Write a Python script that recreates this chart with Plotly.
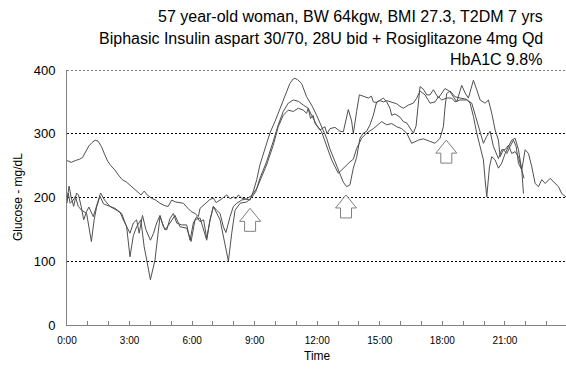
import plotly.graph_objects as go

# ---- data (hours of day, glucose mg/dL) ----
t_a = [0.00,0.20,0.40,0.60,0.75,0.90,1.05,1.20,1.35,1.50,1.65,1.80,1.95,2.10,2.30,2.47,2.65,2.86,3.10,3.34,
       3.55,3.70,3.85,4.05,4.25,4.46,4.70,4.85,5.02,5.20,5.40,5.58,5.80,5.95,6.14,6.30,6.38,6.55,6.70,6.86,
       7.02,7.15,7.34,7.50,7.66,7.82,7.98,8.10,8.22,8.38,8.55,8.78,8.94,9.10,9.25,9.50,9.73,9.97,10.21,10.45,
       10.69,10.85,10.93,11.05,11.25,11.49,11.73,11.97,12.21,12.45,12.61,12.85,13.09,13.25,13.41,13.57,13.73,13.89,14.05,14.21,
       14.37,14.53,14.69,14.85,15.01,15.17,15.33,15.57,15.81,15.97,16.13,16.37,16.61,16.77,16.93,17.17,17.41,17.65,17.81,17.97,
       18.21,18.45,18.61,18.85,19.17,19.41,19.65,19.81,19.97,20.13,20.29,20.45,20.69,20.85,21.01,21.17,21.33,21.49,21.65,21.81,21.92]
g_a = [258,255,258,260,263,273,281,286,290,288,280,268,257,250,243,235,228,224,217,209,
       204,210,204,199,196,191,187,186,196,193,192,191,183,178,175,170,183,188,191,197,
       199,192,196,200,204,198,201,198,204,199,198,196,210,228,251,277,301,319,340,361,
       379,386,387,385,379,358,345,329,311,293,276,256,235,224,217,220,246,263,293,301,
       304,314,329,350,352,350,352,350,347,343,340,345,348,356,367,361,348,350,358,353,
       356,356,350,353,353,348,322,301,285,296,304,280,261,275,275,282,269,272,264,243,230]

t_b = [0.00,0.10,0.20,0.32,0.46,0.55,0.68,0.80,0.94,1.05,1.26,1.42,1.61,1.80,2.06,2.30,2.54,2.70,2.86,3.02,
       3.18,3.34,3.46,3.62,3.78,4.00,4.15,4.30,4.46,4.62,4.78,4.94,5.10,5.26,5.50,5.74,5.90,6.06,6.22,6.38,
       6.55,6.70,6.86,7.02,7.18,7.34,7.50,7.62,7.82,7.98,8.14,8.38,8.62,8.85,9.10,9.25,9.57,9.89,10.13,10.37,
       10.61,10.85,11.09,11.33,11.49,11.57,11.68,11.80,11.90,12.13,12.37,12.47,12.61,12.85,13.09,13.25,13.49,13.65,13.73,13.89,
       14.02,14.20,14.45,14.60,14.69,14.85,15.01,15.17,15.33,15.49,15.57,15.73,15.97,16.13,16.29,16.45,16.61,16.74,16.85,16.93,
       17.09,17.25,17.41,17.57,17.81,17.97,18.13,18.37,18.53,18.69,18.93,19.09,19.25,19.49,19.65,19.81,20.05,20.21,20.37,20.53,
       20.69,20.77,20.93,21.09,21.25,21.41,21.54,21.65,21.81,21.97,22.13,22.29,22.45,22.61,22.77,22.93,23.17,23.33,23.57,23.73,23.93]
g_b = [196,218,200,186,207,204,186,165,178,185,170,186,207,196,186,183,177,165,154,144,
       160,165,144,172,150,133,144,160,172,154,149,167,175,160,157,157,133,160,170,162,
       165,136,165,186,180,175,154,145,170,186,191,196,198,203,214,225,251,282,311,329,
       337,335,340,337,332,340,324,329,316,306,311,300,308,310,304,303,338,320,300,335,
       361,359,356,359,350,349,352,356,350,340,329,331,326,319,317,308,301,312,356,374,
       370,361,361,369,356,364,371,366,358,350,376,364,356,384,369,353,348,353,332,306,
       290,264,275,269,280,290,280,254,243,275,269,248,222,217,228,222,230,225,217,206,201]

t_c = [0.00,0.06,0.15,0.30,0.40,0.54,0.70,0.94,1.17,1.30,1.42,1.58,1.75,2.06,2.38,2.62,2.86,3.02,3.18,3.34,
       3.54,3.70,4.00,4.22,4.46,4.70,4.94,5.18,5.42,5.74,5.95,6.14,6.38,6.70,6.86,7.02,7.34,7.58,7.74,7.90,
       8.06,8.30,8.62,8.85,9.05,9.25,9.57,9.89,10.13,10.37,10.61,10.85,11.09,11.33,11.57,11.73,11.97,12.21,12.45,12.69,
       13.01,13.25,13.57,13.73,13.89,14.13,14.37,14.69,14.93,15.09,15.33,15.57,15.81,16.05,16.29,16.53,16.85,17.09,17.41,17.65,
       17.89,18.05,18.13,18.21,18.37,18.61,18.85,19.17,19.33,19.49,19.65,19.81,19.97,20.05,20.13,20.26,20.37,20.53,20.69,20.85,
       21.01,21.17,21.33,21.49,21.65,21.81,21.89]
g_c = [191,207,191,196,202,186,180,175,131,165,185,202,190,186,180,175,154,107,140,154,
       165,123,71,102,170,149,160,172,154,152,131,165,168,133,165,186,165,123,100,144,
       180,191,193,200,209,230,256,288,314,335,348,353,351,345,340,329,314,303,282,259,
       238,246,256,260,277,293,301,308,314,319,314,316,311,308,301,285,290,292,288,285,
       293,311,342,363,367,358,356,354,348,327,301,280,259,228,201,248,264,259,246,254,
       269,280,290,293,275,243,206]

arrow_times = [8.78, 13.38, 18.19]
arrow_tips = [183, 204, 290]

y_ticks = [0, 100, 200, 300, 400]
x_tick_hours = list(range(0, 24))
x_tick_labels = [f"{h}:00" if h % 3 == 0 else "" for h in x_tick_hours]

title_lines = ["57 year-old woman, BW 64kgw, BMI 27.3, T2DM 7 yrs",
               "Biphasic Insulin aspart 30/70, 28U bid + Rosiglitazone 4mg Qd",
               "HbA1C 9.8%"]

FONT = "Liberation Sans, Arial, sans-serif"
LINE_COLOR = "#505050"
GRID_DASH = "2px,2px"

fig = go.Figure()
for t, g in [(t_a, g_a), (t_b, g_b), (t_c, g_c)]:
    fig.add_trace(go.Scatter(x=t, y=g, mode="lines",
                             line=dict(color=LINE_COLOR, width=1),
                             hoverinfo="skip", showlegend=False))

# top dotted gridline at the upper axis limit
fig.add_shape(type="line", xref="paper", yref="y", x0=0, x1=1,
              y0=y_ticks[-1], y1=y_ticks[-1],
              line=dict(color="black", width=1, dash=GRID_DASH), layer="below")

# hollow up arrows (pixel-sized, anchored at data points)
arrow_path = "M 0,0 L 10.5,-13 L 5.5,-13 L 5.5,-23 L -5.5,-23 L -5.5,-13 L -10.5,-13 Z"
for at, av in zip(arrow_times, arrow_tips):
    fig.add_shape(type="path", xref="x", yref="y",
                  xsizemode="pixel", ysizemode="pixel",
                  xanchor=at, yanchor=av, path=arrow_path,
                  line=dict(color="#808080", width=1), fillcolor="white", layer="above")

title_y = [1.208, 1.122, 1.04]
for txt, yy in zip(title_lines, title_y):
    fig.add_annotation(text=txt, xref="paper", yref="paper", x=0.958, y=yy,
                       xanchor="right", yanchor="middle", showarrow=False,
                       font=dict(family=FONT, size=16, color="black"))

fig.add_annotation(text="Glucose - mg/dL", xref="paper", yref="paper", x=-0.098, y=0.502,
                   textangle=-90, xanchor="center", yanchor="middle", showarrow=False,
                   font=dict(family=FONT, size=12, color="black"))
fig.add_annotation(text="Time", xref="paper", yref="paper", x=0.503, y=-0.12,
                   xanchor="center", yanchor="middle", showarrow=False,
                   font=dict(family=FONT, size=12, color="black"))

fig.update_layout(
    width=566, height=369,
    margin=dict(l=67, r=0, t=70, b=44),
    paper_bgcolor="white", plot_bgcolor="white",
    font=dict(family=FONT, color="black"),
    xaxis=dict(range=[0, 23.93], tickvals=x_tick_hours, ticktext=x_tick_labels,
               ticks="inside", ticklen=4, tickcolor="#808080",
               showline=True, linecolor="#808080", linewidth=1,
               showgrid=False, zeroline=False, ticklabelstandoff=6,
               tickfont=dict(size=10, family=FONT, color="black")),
    yaxis=dict(range=[0, 400], tickvals=y_ticks,
               showline=True, linecolor="#808080", linewidth=1,
               showgrid=True, gridcolor="black", gridwidth=1, griddash=GRID_DASH,
               zeroline=False, ticks="", ticklabelstandoff=8,
               tickfont=dict(size=13, family=FONT, color="black")),
)

fig.write_html("out.html")
